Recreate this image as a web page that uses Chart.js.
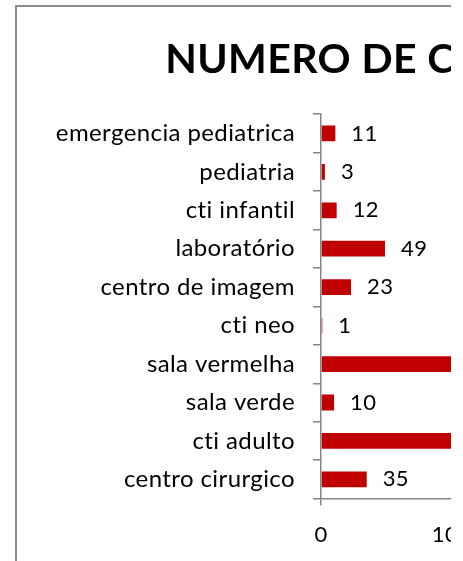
<!DOCTYPE html>
<html>
<head>
<meta charset="utf-8">
<script src="https://cdn.jsdelivr.net/npm/chart.js@4.4.1/dist/chart.umd.min.js"></script>
<style>
  html, body { margin: 0; padding: 0; background: #fff; overflow: hidden; }
  #clip { position: absolute; left: 0; top: 0; width: 451px; height: 561px; overflow: hidden; }
  #frame { position: absolute; left: 15px; top: 5px;
           border-left: 2px solid #8c8c8c; border-top: 2px solid #8c8c8c; }
  canvas { display: block; }
</style>
</head>
<body>
<div id="clip">
  <div id="frame"><canvas id="myChart"></canvas></div>
</div>
<script>
// the two long bars run past the cropped edge of the picture, their values are guesses
const categories = ['emergencia pediatrica', 'pediatria', 'cti infantil', 'laboratório',
  'centro de imagem', 'cti neo', 'sala vermelha', 'sala verde', 'cti adulto', 'centro cirurgico'];
const values = [11, 3, 12, 49, 23, 1, 160, 10, 210, 35];
const xTickValues = [0, 100, 200, 300];
const chartTitle = 'NUMERO DE CHAMADOS';

const barColor = '#c00000';
const axisColor = '#868686';
const spacing = '0.4px'; // a little tracking, also keeps Lato from joining "ti"

// size the canvas so the centred title starts where the original one does
const canvas = document.getElementById('myChart');
var ctx = canvas.getContext('2d');
ctx.font = 'bold 41px Lato';
ctx.letterSpacing = spacing;
const titleWidth = ctx.measureText(chartTitle).width;
const chartWidth = Math.round(2 * (148 + titleWidth / 2));
const chartHeight = 600;
const yAxisWidth = 304;
const pxPerUnit = 1.306;
const xMax = (chartWidth - yAxisWidth) / pxPerUnit;

canvas.width = chartWidth;
canvas.height = chartHeight;

const tracking = {
  id: 'tracking',
  beforeDraw(chart) { chart.ctx.letterSpacing = spacing; }
};

// value labels just past the end of each bar
const valueLabels = {
  id: 'valueLabels',
  afterDatasetsDraw(chart) {
    const c = chart.ctx;
    c.save();
    c.font = '22px Lato';
    c.fillStyle = '#000';
    c.textAlign = 'left';
    c.textBaseline = 'middle';
    chart.getDatasetMeta(0).data.forEach((bar, i) => {
      c.fillText(values[i], bar.x + 16, bar.y);
    });
    c.restore();
  }
};

var myChart = new Chart(ctx, {
  type: 'bar',
  data: {
    labels: categories,
    datasets: [{
      data: values,
      backgroundColor: barColor,
      barPercentage: 0.41,
      categoryPercentage: 1
    }]
  },
  options: {
    indexAxis: 'y',
    responsive: false,
    animation: false,
    layout: { padding: { left: 0, top: 8, right: 0, bottom: 43 } },
    plugins: {
      legend: { display: false },
      tooltip: { enabled: false },
      title: {
        display: true,
        text: chartTitle,
        color: '#000',
        font: { family: 'Lato', size: 41, weight: 'bold' },
        padding: { top: 20, bottom: 30 }
      }
    },
    scales: {
      y: {
        afterFit: (scale) => { scale.width = yAxisWidth; },
        grid: { drawOnChartArea: false, color: axisColor, lineWidth: 1.5, tickLength: 8 },
        border: { color: axisColor, width: 1.5 },
        ticks: { color: '#000', padding: 18, font: { family: 'Lato', size: 24 } }
      },
      x: {
        min: 0,
        max: xMax,
        afterBuildTicks: (scale) => { scale.ticks = xTickValues.map(v => ({ value: v })); },
        afterFit: (scale) => { scale.paddingLeft = 0; scale.paddingRight = 0; },
        grid: { drawOnChartArea: false, color: axisColor, lineWidth: 1.5, tickLength: 7 },
        border: { color: axisColor, width: 1.5 },
        ticks: { color: '#000', padding: 16, font: { family: 'Lato', size: 22 } }
      }
    }
  },
  plugins: [tracking, valueLabels]
});
</script>
</body>
</html>
